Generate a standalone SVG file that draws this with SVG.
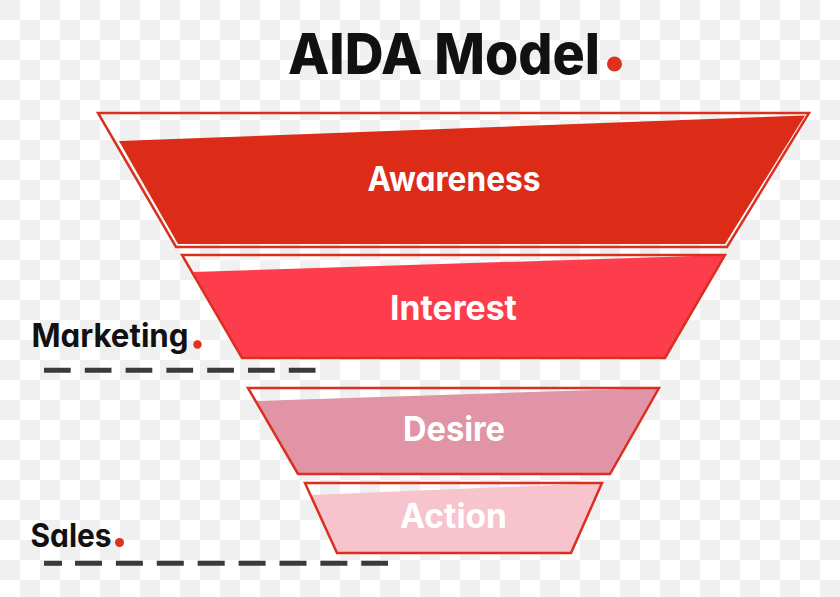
<svg xmlns="http://www.w3.org/2000/svg" width="840" height="597" viewBox="0 0 840 597">
  <defs>
    <pattern id="checker" x="0" y="0" width="40" height="40" patternUnits="userSpaceOnUse">
      <rect x="0" y="0" width="40" height="40" fill="#ffffff"/>
      <rect x="0" y="0" width="20" height="20" fill="#f0f0f0"/>
      <rect x="20" y="20" width="20" height="20" fill="#f0f0f0"/>
    </pattern>
  </defs>
  <style>
    .outline { fill: none; stroke: #d9301f; stroke-width: 2.5; stroke-linejoin: miter; }
    .label { font-family: Inter, "Noto Sans", sans-serif; font-weight: 700; fill: #ffffff; text-anchor: middle; font-feature-settings: "cv11"; }
    .side { font-family: Inter, "Noto Sans", sans-serif; font-weight: 700; fill: #111111; font-feature-settings: "cv11"; }
    .title { font-family: Inter, "Noto Sans", sans-serif; font-weight: 800; fill: #111111; font-feature-settings: "cv11"; }
    .dot { fill: #e0301e; }
    .dash { stroke: #3a3a3a; stroke-width: 5; fill: none; }
  </style>
  <rect x="0" y="0" width="840" height="597" fill="url(#checker)"/>

  <g id="title">
    <text class="title" x="288" y="73.5" font-size="57" textLength="312" lengthAdjust="spacingAndGlyphs">AIDA Model</text>
    <circle class="dot" cx="614.5" cy="64" r="7.5"/>
  </g>

  <g id="awareness">
    <polygon points="119,141 805,115.5 725,244 178,244" fill="#dc2b16"/>
    <polygon class="outline" points="98,113 809,113 727,247 176,247"/>
    <text class="label" x="454" y="191" font-size="34" textLength="173" lengthAdjust="spacingAndGlyphs">Awareness</text>
  </g>

  <g id="interest">
    <polygon points="193,272 725,255 665,358 242,358" fill="#fd3c4c"/>
    <polygon class="outline" points="182,255 725,255 665,358 242,358"/>
    <text class="label" x="453.5" y="320" font-size="34" textLength="127" lengthAdjust="spacingAndGlyphs">Interest</text>
  </g>

  <g id="desire">
    <polygon points="256,401 659,388 610,474 298,474" fill="#e094a6"/>
    <polygon class="outline" points="248,388 659,388 610,474 298,474"/>
    <text class="label" x="454" y="441" font-size="34" textLength="102" lengthAdjust="spacingAndGlyphs">Desire</text>
  </g>

  <g id="action">
    <polygon points="311,495 602,483 571,553 337,553" fill="#f7c3cd"/>
    <polygon class="outline" points="305,483 602,483 571,553 337,553"/>
    <text class="label" x="453.5" y="528" font-size="34" textLength="107" lengthAdjust="spacingAndGlyphs">Action</text>
  </g>

  <g id="marketing">
    <text class="side" x="31.5" y="346.7" font-size="32" textLength="157" lengthAdjust="spacingAndGlyphs">Marketing</text>
    <circle class="dot" cx="197.5" cy="344.5" r="4.2"/>
  </g>

  <g id="sales">
    <text class="side" x="30.5" y="546.7" font-size="32" textLength="81" lengthAdjust="spacingAndGlyphs">Sales</text>
    <circle class="dot" cx="119.5" cy="542.5" r="4.5"/>
  </g>

  <g id="connectors">
    <line class="dash" x1="44" y1="370.3" x2="316" y2="370.3" stroke-dasharray="26.7 14.1"/>
    <line class="dash" x1="44" y1="563.3" x2="62" y2="563.3"/>
    <line class="dash" x1="75" y1="563.3" x2="388" y2="563.3" stroke-dasharray="27 13.9"/>
  </g>
</svg>
